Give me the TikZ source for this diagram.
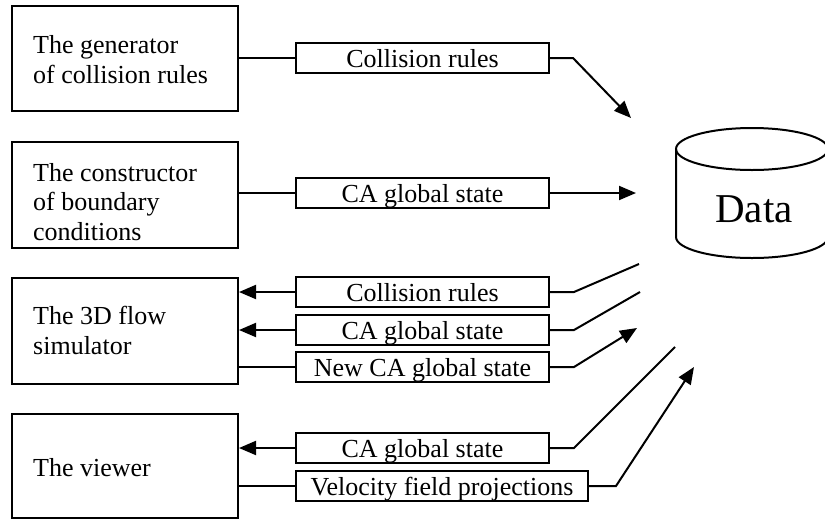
\documentclass[tikz,border=0pt]{standalone}
\usepackage{fontspec}
\setmainfont{Liberation Serif}
\usetikzlibrary{arrows.meta,calc}
\begin{document}
\begin{tikzpicture}[x=1pt,y=-1pt,
  ln/.style={line width=2pt},
  arr/.style={line width=2pt,-{Triangle[length=17pt,width=14pt]}},
  procbox/.style={draw,line width=2pt,minimum width=226pt,minimum height=105pt,inner sep=0pt},
  proctext/.style={font=\fontsize{26}{29.5}\selectfont,align=left,inner sep=0pt,anchor=base west},
  lblbox/.style={draw,line width=2pt,font=\fontsize{26}{29}\selectfont,minimum width=253pt,
    text height=18pt,text depth=0pt,inner xsep=0pt,inner ysep=6pt,align=center},
  datatext/.style={font=\fontsize{41}{46}\selectfont,inner sep=0pt}]
\useasboundingbox (0,0) rectangle (825,520);
\clip (0,0) rectangle (825,520);

% process boxes
\node[procbox] (gen) at (125,58.5) {};
\node[procbox,minimum height=106pt] (con) at (125,195) {};
\node[procbox,minimum height=106pt] (sim) at (125,331) {};
\node[procbox,minimum height=104pt] (view) at (125,466) {};

% texts (anchor = baseline of the last line)
\node[proctext] (gent) at (33,83) {The generator\\of collision rules};
\node[proctext] (cont) at (33,240) {The constructor\\of boundary\\conditions};
\node[proctext] (simt) at (33,354) {The 3D flow\\simulator};
\node[proctext] (viewt) at (33,476) {The viewer};

% label boxes
\node[lblbox] (lr1) at (422.5,58) {Collision rules};
\node[lblbox] (lc1) at (422.5,193) {CA global state};
\node[lblbox] (lr2) at (422.5,292) {Collision rules};
\node[lblbox] (lc2) at (422.5,330) {CA global state};
\node[lblbox] (lnw) at (422.5,367) {New CA global state};
\node[lblbox] (lc3) at (422.5,448) {CA global state};
\node[lblbox,minimum width=292pt] (lv) at (442,486) {Velocity field projections};

% data store
\draw[ln] (752,149) ellipse [x radius=76, y radius=21];
\draw[ln] (676,149) -- (676,237)
  .. controls (676,248.6) and (710,258) .. (752,258)
  .. controls (794,258) and (828,248.6) .. (828,237) -- (828,149);
\node[datatext] (data) at (754,209) {Data};

% free ends near the data store
\coordinate (t1) at (631,118);
\coordinate (t2) at (636,193);
\coordinate (e3) at (639,264);
\coordinate (e4) at (640,292);
\coordinate (t5) at (637,328);
\coordinate (e6) at (675,347);
\coordinate (t7) at (694,367);

% generator
\draw[ln] (lr1.west -| gen.east) -- (lr1.west);
\draw[arr] (lr1.east) -- ++(23,0) -- (t1);
% constructor
\draw[ln] (lc1.west -| con.east) -- (lc1.west);
\draw[arr] (lc1.east) -- (t2);
% simulator
\draw[arr] (lr2.west) -- (lr2.west -| sim.east);
\draw[ln] (lr2.east) -- ++(24,0) -- (e3);
\draw[arr] (lc2.west) -- (lc2.west -| sim.east);
\draw[ln] (lc2.east) -- ++(24,0) -- (e4);
\draw[ln] (lnw.west -| sim.east) -- (lnw.west);
\draw[arr] (lnw.east) -- ++(24,0) -- (t5);
% viewer
\draw[arr] (lc3.west) -- (lc3.west -| view.east);
\draw[ln] (lc3.east) -- ++(24,0) -- (e6);
\draw[ln] (lv.west -| view.east) -- (lv.west);
\draw[arr] (lv.east) -- ++(27,0) -- (t7);
\end{tikzpicture}
\end{document}
